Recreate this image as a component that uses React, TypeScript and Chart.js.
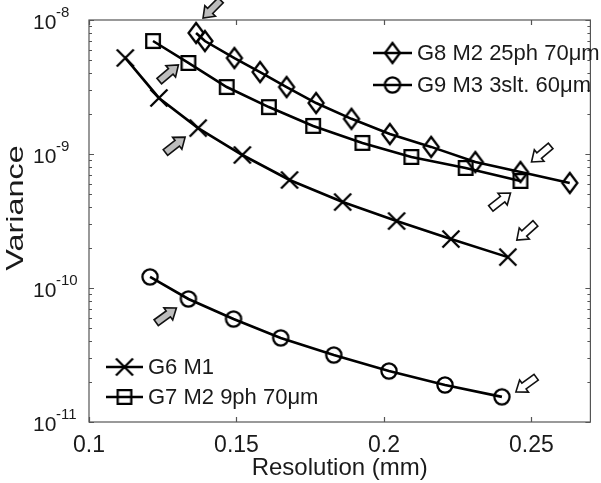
import React, { useEffect, useRef } from 'react';
import { Chart, registerables } from 'chart.js';

Chart.register(...registerables);

// ---- data ----
const g6Label = 'G6 M1';
const g6X = [0.1123, 0.1237, 0.137, 0.152, 0.168, 0.186, 0.2043, 0.2227, 0.242];
const g6Y = [5.21e-9, 2.62e-9, 1.56e-9, 9.83e-10, 6.4e-10, 4.38e-10, 3.16e-10, 2.32e-10, 1.7e-10];

const g7Label = 'G7 M2 9ph 70μm';
const g7X = [0.1217, 0.1337, 0.1467, 0.161, 0.176, 0.1927, 0.2093, 0.2277, 0.2463];
const g7Y = [6.97e-9, 4.78e-9, 3.16e-9, 2.24e-9, 1.62e-9, 1.21e-9, 9.5e-10, 7.87e-10, 6.29e-10];

const g8Label = 'G8 M2 25ph 70μm';
const g8X = [0.1363, 0.1393, 0.1493, 0.158, 0.167, 0.177, 0.189, 0.202, 0.216, 0.231, 0.2463, 0.263];
const g8Y = [8.0e-9, 6.97e-9, 5.2e-9, 4.09e-9, 3.16e-9, 2.4e-9, 1.83e-9, 1.41e-9, 1.13e-9, 8.71e-10, 7.34e-10, 6.08e-10];

const g9Label = 'G9 M3 3slt. 60μm';
const g9X = [0.1207, 0.1337, 0.149, 0.165, 0.183, 0.2017, 0.2207, 0.24];
const g9Y = [1.21e-10, 8.28e-11, 5.87e-11, 4.24e-11, 3.16e-11, 2.4e-11, 1.89e-11, 1.54e-11];

const xTickValues = [0.1, 0.15, 0.2, 0.25];
const xTickLabels = ['0.1', '0.15', '0.2', '0.25'];
const yDecades = [1e-8, 1e-9, 1e-10, 1e-11];
const yDecadeExponents = ['-8', '-9', '-10', '-11'];

const xTitle = 'Resolution (mm)';
const yTitle = 'Variance';

// arrows pointing at particular points: [datasetIndex, pointIndex]
const arrowTargets = [
  [2, 0], [1, 1], [0, 2], [3, 1],
  [2, 10], [1, 8], [0, 8], [3, 7],
];

// ---- styling ----
const FONT = '"Liberation Sans", Arial, Helvetica, sans-serif';
const TEXT = '#1a1a1a';
const AXIS = '#555555';

// arrow style per target: tip offset from point (px), direction (deg), fill
const arrowStyles = [
  { dx: 7, dy: -15, ang: 135, fill: '#bdbdbd' },
  { dx: -10, dy: 2, ang: -40, fill: '#bdbdbd' },
  { dx: -13, dy: 9, ang: -38, fill: '#bdbdbd' },
  { dx: -12, dy: 9, ang: -36, fill: '#bdbdbd' },
  { dx: 11, dy: -10, ang: 140, fill: '#ffffff' },
  { dx: -10, dy: 12, ang: -38, fill: '#ffffff' },
  { dx: 9, dy: -17, ang: 138, fill: '#ffffff' },
  { dx: 14, dy: -5, ang: 144, fill: '#ffffff' },
];

function makeMarker(kind: string): HTMLCanvasElement {
  const S = 28;
  const c = document.createElement('canvas');
  c.width = S;
  c.height = S;
  const g = c.getContext('2d')!;
  g.translate(S / 2, S / 2);
  g.strokeStyle = '#000';
  g.lineWidth = 2.3;
  g.lineJoin = 'miter';
  g.beginPath();
  if (kind === 'cross') {
    const h = 8.5;
    g.moveTo(-h, -h); g.lineTo(h, h);
    g.moveTo(-h, h); g.lineTo(h, -h);
  } else if (kind === 'square') {
    g.rect(-6.8, -6.8, 13.6, 13.6);
  } else if (kind === 'diamond') {
    g.moveTo(0, -10); g.lineTo(7.5, 0); g.lineTo(0, 10); g.lineTo(-7.5, 0); g.closePath();
  } else {
    g.arc(0, 0, 7.6, 0, Math.PI * 2);
  }
  g.stroke();
  return c;
}

function drawArrow(ctx: CanvasRenderingContext2D, x: number, y: number, angDeg: number, fill: string) {
  const L = 25, hl = 10, hw = 7.5, sw = 3.6;
  ctx.save();
  ctx.translate(x, y);
  ctx.rotate((angDeg * Math.PI) / 180);
  ctx.beginPath();
  ctx.moveTo(0, 0);
  ctx.lineTo(-hl, hw);
  ctx.lineTo(-hl, sw);
  ctx.lineTo(-L, sw);
  ctx.lineTo(-L, -sw);
  ctx.lineTo(-hl, -sw);
  ctx.lineTo(-hl, -hw);
  ctx.closePath();
  ctx.fillStyle = fill;
  ctx.fill();
  ctx.lineWidth = 1.6;
  ctx.strokeStyle = '#111';
  ctx.lineJoin = 'miter';
  ctx.stroke();
  ctx.restore();
}

export default function App() {
  const ref = useRef<HTMLCanvasElement | null>(null);

  useEffect(() => {
    const canvas = ref.current;
    if (!canvas) return;
    const markers = {
      cross: makeMarker('cross'),
      square: makeMarker('square'),
      diamond: makeMarker('diamond'),
      circle: makeMarker('circle'),
    };

    const toPts = (xs: number[], ys: number[]) => xs.map((x, i) => ({ x, y: ys[i] }));
    const mk = (label: string, xs: number[], ys: number[], marker: HTMLCanvasElement) => ({
      label,
      data: toPts(xs, ys),
      borderColor: '#000',
      borderWidth: 2.6,
      backgroundColor: 'rgba(0,0,0,0)',
      pointStyle: marker,
      pointRadius: 8,
      pointHoverRadius: 8,
      tension: 0,
      showLine: true,
      fill: false,
    });

    const decor = {
      id: 'decor',
      afterDraw(chart: any) {
        const ctx: any = chart.ctx;
        const { left, right, top, bottom } = chart.chartArea;
        const xs = chart.scales.x;
        const ys = chart.scales.y;
        ctx.save();
        // box
        ctx.strokeStyle = AXIS;
        ctx.lineWidth = 1.2;
        ctx.strokeRect(left, top, right - left, bottom - top);
        // x ticks (inside, top & bottom)
        ctx.beginPath();
        xTickValues.forEach((v) => {
          const px = Math.round(xs.getPixelForValue(v)) + 0.5;
          ctx.moveTo(px, bottom); ctx.lineTo(px, bottom - 5);
          ctx.moveTo(px, top); ctx.lineTo(px, top + 5);
        });
        // y ticks major + minor
        for (let d = 0; d < yDecades.length; d++) {
          const dec = yDecades[d];
          const py = Math.round(ys.getPixelForValue(dec)) + 0.5;
          ctx.moveTo(left, py); ctx.lineTo(left + 5, py);
          ctx.moveTo(right, py); ctx.lineTo(right - 5, py);
          if (d < yDecades.length - 1) {
            const lower = yDecades[d + 1];
            for (let m = 2; m <= 9; m++) {
              const my = Math.round(ys.getPixelForValue(lower * m)) + 0.5;
              ctx.moveTo(left, my); ctx.lineTo(left + 3, my);
              ctx.moveTo(right, my); ctx.lineTo(right - 3, my);
            }
          }
        }
        ctx.stroke();

        // y tick labels 10^n
        ctx.fillStyle = TEXT;
        ctx.textAlign = 'left';
        ctx.textBaseline = 'alphabetic';
        yDecades.forEach((dec, i) => {
          const py = ys.getPixelForValue(dec);
          ctx.font = `21px ${FONT}`;
          ctx.fillText('10', 33, py + 9);
          ctx.font = `15px ${FONT}`;
          ctx.fillText(yDecadeExponents[i], 56, py - 3.5);
        });

        // y title (stretched like the reference)
        ctx.save();
        ctx.translate(16, 208);
        ctx.rotate(-Math.PI / 2);
        ctx.scale(1.35, 1);
        ctx.font = `24px ${FONT}`;
        ctx.textAlign = 'center';
        ctx.textBaseline = 'middle';
        ctx.fillText(yTitle, 0, 0);
        ctx.restore();

        // legends
        const row = (x1: number, x2: number, y: number, mkr: HTMLCanvasElement, text: string, tx: number) => {
          ctx.beginPath();
          ctx.strokeStyle = '#000';
          ctx.lineWidth = 2.6;
          ctx.moveTo(x1, y); ctx.lineTo(x2, y);
          ctx.stroke();
          const cx = (x1 + x2) / 2;
          ctx.drawImage(mkr, cx - mkr.width / 2, y - mkr.height / 2);
          ctx.fillStyle = TEXT;
          ctx.font = `22px ${FONT}`;
          ctx.textAlign = 'left';
          ctx.textBaseline = 'middle';
          ctx.fillText(text, tx, y + 1);
        };
        row(373, 412, 53, markers.diamond, g8Label, 417);
        row(373, 412, 85, markers.circle, g9Label, 417);
        row(106, 143, 367, markers.cross, g6Label, 148);
        row(106, 143, 397, markers.square, g7Label, 148);

        // arrows
        arrowTargets.forEach(([ds, idx], i) => {
          const el = chart.getDatasetMeta(ds).data[idx];
          const st = arrowStyles[i];
          drawArrow(ctx, el.x + st.dx, el.y + st.dy, st.ang, st.fill);
        });
        ctx.restore();
      },
    };

    const chart = new Chart(canvas, {
      type: 'line',
      data: {
        datasets: [
          mk(g6Label, g6X, g6Y, markers.cross),
          mk(g7Label, g7X, g7Y, markers.square),
          mk(g8Label, g8X, g8Y, markers.diamond),
          mk(g9Label, g9X, g9Y, markers.circle),
        ],
      },
      options: {
        responsive: false,
        animation: false,
        events: [],
        layout: { padding: { top: 20, right: 3, left: 0, bottom: 0 } },
        plugins: {
          legend: { display: false },
          tooltip: { enabled: false },
        },
        scales: {
          x: {
            type: 'linear',
            min: 0.1,
            max: 0.27,
            grid: { display: false },
            border: { display: false },
            afterBuildTicks: (scale: any) => {
              scale.ticks = xTickValues.map((v) => ({ value: v }));
            },
            afterFit: (scale: any) => {
              scale.height = 61;
            },
            ticks: {
              padding: 2,
              color: TEXT,
              font: { family: FONT, size: 23 },
              maxRotation: 0,
              autoSkip: false,
              callback: (v: any) => {
                const i = xTickValues.indexOf(Number(v));
                return i >= 0 ? xTickLabels[i] : '';
              },
            },
            title: {
              display: true,
              text: xTitle,
              color: TEXT,
              font: { family: FONT, size: 24 },
              padding: { top: 0, bottom: 0 },
            },
          },
          y: {
            type: 'logarithmic',
            min: 1e-11,
            max: 1e-8,
            grid: { display: false },
            border: { display: false },
            ticks: { display: false },
            afterFit: (scale: any) => {
              scale.width = 89;
            },
          },
        },
      },
      plugins: [decor],
    } as any);

    return () => chart.destroy();
  }, []);

  return (
    <div style={{ position: 'fixed', left: 0, top: 0, width: 601, height: 483, background: '#fff' }}>
      <canvas ref={ref} width={601} height={483} style={{ display: 'block' }} />
    </div>
  );
}
